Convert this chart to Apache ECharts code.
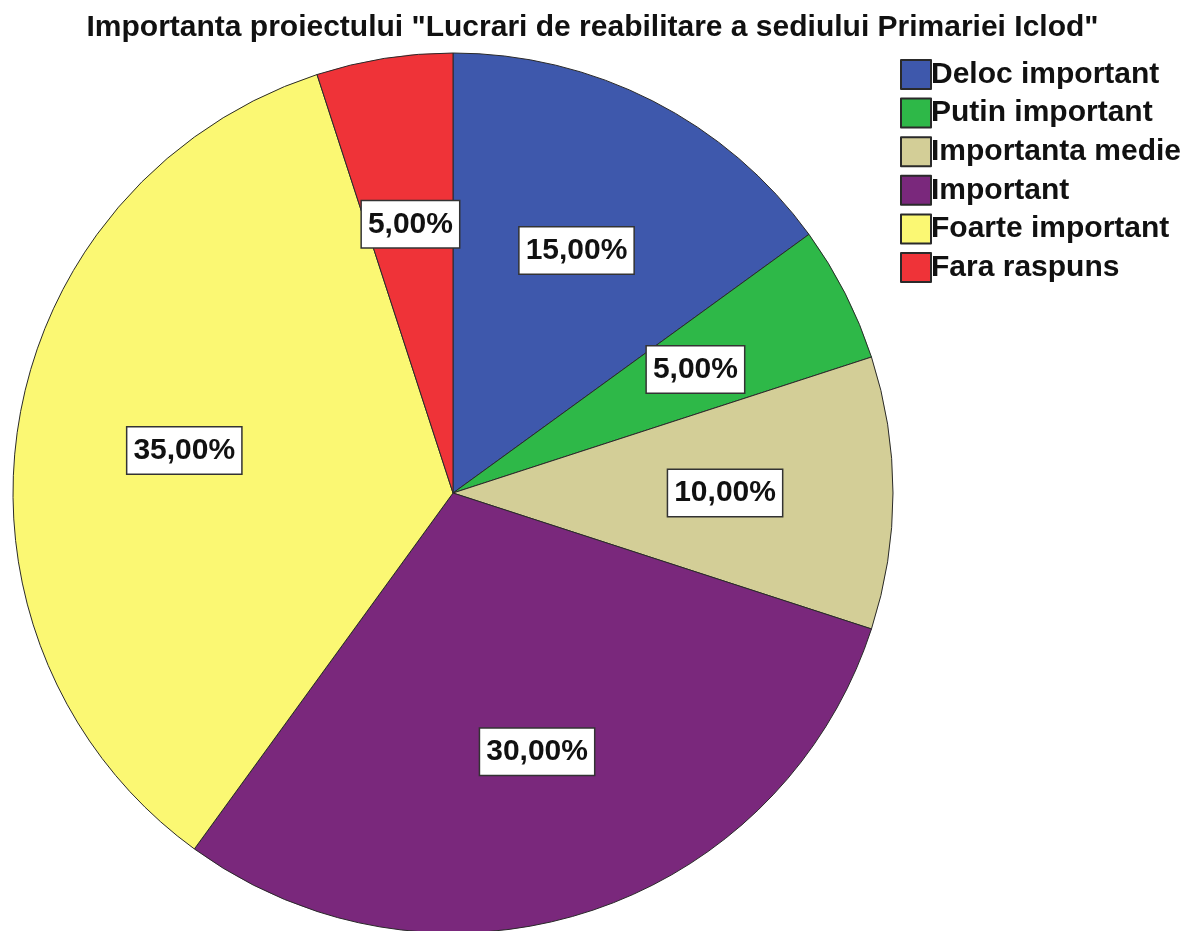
<!DOCTYPE html>
<html>
<head>
<meta charset="utf-8">
<script src="https://cdn.jsdelivr.net/npm/echarts@6/dist/echarts.min.js"></script>
<style>html,body{margin:0;padding:0;background:#fff;}#chart{width:1185px;height:931px;}</style>
</head>
<body>
<div id="chart"></div>
<script>
const categories = ['Deloc important', 'Putin important', 'Importanta medie', 'Important', 'Foarte important', 'Fara raspuns'];
const percentValues = [15, 5, 10, 30, 35, 5];
const sliceColors = ['#3E58AC', '#2EB848', '#D3CE97', '#7A287C', '#FBF873', '#EF3338'];
const titleText = 'Importanta proiectului "Lucrari de reabilitare a sediului Primariei Iclod"';

const FONT = '"Liberation Sans", Arial, sans-serif';
const CX = 453, CY = 493, R = 440;

const chart = echarts.init(document.getElementById('chart'));
chart.setOption({
  backgroundColor: '#fff',
  animation: false,
  title: {
    text: titleText,
    left: 'center',
    top: 8,
    textStyle: { fontFamily: FONT, fontSize: 30, fontWeight: 'bold', color: '#111' }
  },
  legend: {
    orient: 'vertical',
    left: 895,
    top: 54,
    itemWidth: 30,
    itemHeight: 29,
    itemGap: 7.6,
    icon: 'rect',
    data: categories,
    textStyle: { fontFamily: FONT, fontSize: 30, fontWeight: 'bold', lineHeight: 26, color: '#111', padding: [3, 0, 0, -5] }
  },
  series: [{
    type: 'pie',
    center: [CX, CY],
    radius: R,
    startAngle: 90,
    clockwise: true,
    avoidLabelOverlap: false,
    itemStyle: { borderColor: '#2a2a2a', borderWidth: 1 },
    label: {
      show: true,
      position: 'inside',
      formatter: p => p.value.toFixed(2).replace('.', ',') + '%',
      fontFamily: FONT,
      fontSize: 30,
      fontWeight: 'bold',
      lineHeight: 34,
      color: '#111',
      backgroundColor: '#fff',
      borderColor: '#333',
      borderWidth: 1.5,
      padding: [8, 6, 4, 6]
    },
    labelLine: { show: false },
    labelLayout: function (params) {
      const r = params.labelRect;
      const lx = r.x + r.width / 2, ly = r.y + r.height / 2;
      return { dx: (lx - CX) * 0.22, dy: (ly - CY) * 0.22 };
    },
    emphasis: { disabled: true },
    data: categories.map((name, i) => ({ name: name, value: percentValues[i], itemStyle: { color: sliceColors[i] } }))
  }]
});
</script>
</body>
</html>
